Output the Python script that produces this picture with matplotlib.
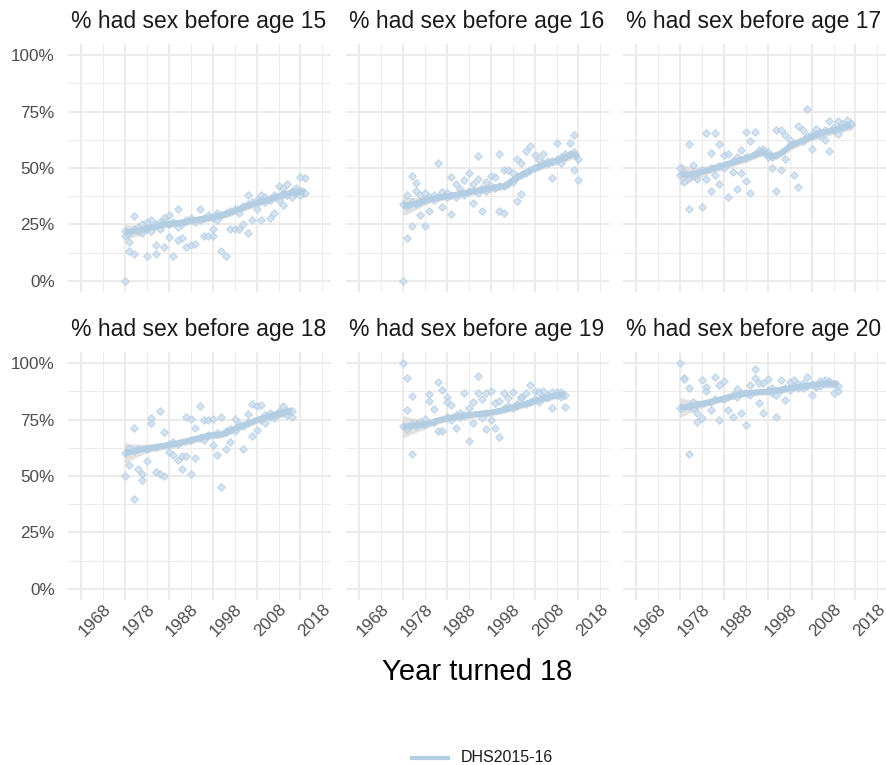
import matplotlib
matplotlib.use('Agg')
import matplotlib.pyplot as plt
from matplotlib.lines import Line2D

plt.rcParams['font.family'] = ['Liberation Sans', 'DejaVu Sans']

# ---------------- data ----------------
panel_titles = ['% had sex before age 15', '% had sex before age 16', '% had sex before age 17',
                '% had sex before age 18', '% had sex before age 19', '% had sex before age 20']
x_tick_years = [1968, 1978, 1988, 1998, 2008, 2018]
x_mid_years = [1963, 1973, 1983, 1993, 2003, 2013]
y_ticks = [0, 0.25, 0.5, 0.75, 1.0]
y_tick_labels = ['0%', '25%', '50%', '75%', '100%']
series_name = 'DHS2015-16'
x_title = 'Year turned 18'

# age 15
pts_years_15 = [1973, 1973, 1973, 1974, 1974, 1974, 1975, 1975, 1975, 1976, 1976, 1977, 1977, 1978, 1978, 1978,
                1979, 1979, 1980, 1980, 1980, 1981, 1981, 1982, 1982, 1982, 1983, 1983, 1983, 1984, 1984,
                1985, 1985, 1985, 1986, 1986, 1987, 1987, 1988, 1988, 1989, 1989, 1990, 1990, 1991, 1991,
                1992, 1992, 1993, 1993, 1993, 1994, 1994, 1995, 1995, 1996, 1996, 1997, 1997, 1998, 1998,
                1999, 1999, 2000, 2000, 2001, 2001, 2001, 2002, 2002, 2003, 2003, 2004, 2004, 2004, 2005, 2005,
                2006, 2006, 2007, 2007, 2008, 2008, 2009, 2009, 2009, 2010, 2010, 2011, 2011, 2012, 2012,
                2013, 2013, 2014, 2014]
pts_vals_15 = [0.00, 0.22, 0.20, 0.17, 0.13, 0.21, 0.287, 0.12, 0.23, 0.22, 0.24, 0.25, 0.21, 0.11, 0.26, 0.23,
               0.27, 0.22, 0.16, 0.12, 0.25, 0.26, 0.23, 0.15, 0.28, 0.26, 0.195, 0.29, 0.25, 0.11, 0.26,
               0.32, 0.18, 0.24, 0.19, 0.25, 0.15, 0.27, 0.16, 0.28, 0.165, 0.26, 0.32, 0.27, 0.20, 0.28,
               0.20, 0.29, 0.23, 0.20, 0.28, 0.30, 0.27, 0.13, 0.29, 0.11, 0.30, 0.23, 0.31, 0.23, 0.32,
               0.23, 0.30, 0.25, 0.33, 0.21, 0.38, 0.34, 0.27, 0.35, 0.32, 0.36, 0.27, 0.36, 0.38, 0.35, 0.37,
               0.28, 0.36, 0.30, 0.38, 0.42, 0.36, 0.335, 0.39, 0.41, 0.43, 0.38, 0.40, 0.37, 0.39, 0.41,
               0.46, 0.38, 0.455, 0.39]
smooth_years_15 = list(range(1973, 2015))
smooth_15 = [.217, .218, .22, .222, .226, .232, .236, .24, .245, .25, .252, .254, .256, .258, .262, .266,
             .27, .272, .275, .278, .282, .286, .29, .296, .302, .31, .318, .325, .332, .338, .344, .35,
             .356, .362, .368, .374, .38, .385, .39, .394, .396, .392]
band_15 = [.035, .03, .026, .023, .021, .019, .018, .017,
           .016, .016, .016, .016, .016, .016, .016, .016, .016, .016, .016,
           .016, .016, .016, .016, .016, .016, .016, .016, .016, .016, .016,
           .016, .016, .016, .017, .017, .017, .018, .018, .019, .02, .021, .023]

# age 16
pts_years_16 = [1973, 1973, 1974, 1974, 1974, 1975, 1975, 1975, 1976, 1976, 1976, 1977, 1977, 1977, 1978, 1978, 1978,
                1979, 1979, 1980, 1980, 1981, 1981, 1982, 1982, 1983, 1983, 1984, 1984, 1984, 1985, 1985,
                1986, 1986, 1987, 1987, 1988, 1988, 1989, 1989, 1990, 1990, 1990, 1991, 1991, 1992, 1992,
                1993, 1993, 1994, 1994, 1995, 1995, 1995, 1996, 1996, 1996, 1997, 1997, 1998, 1998,
                1999, 1999, 1999, 2000, 2000, 2000, 2001, 2001, 2002, 2002, 2003, 2003, 2004, 2004, 2005, 2005,
                2006, 2006, 2007, 2007, 2008, 2008, 2009, 2009, 2010, 2010, 2011, 2011, 2012, 2012, 2012,
                2013, 2013]
pts_vals_16 = [0.0, .34, .188, .38, .33, .242, .464, .35, .434, .40, .34, .29, .38, .35, .242, .39, .36,
               .31, .37, .36, .38, .524, .37, .325, .394, .37, .39, .295, .461, .38, .428, .37,
               .409, .39, .446, .38, .479, .40, .428, .343, .552, .453, .39, .31, .41, .439, .40,
               .465, .42, .458, .41, .564, .31, .42, .301, .49, .42, .49, .43, .479, .44,
               .353, .542, .46, .383, .523, .47, .575, .48, .597, .49, .557, .50, .535, .51, .561, .52,
               .52, .53, .456, .53, .613, .54, .523, .55, .55, .56, .613, .56, .645, .493, .57,
               .446, .542]
smooth_years_16 = list(range(1973, 2014))
smooth_16 = [.335, .333, .338, .342, .348, .355, .36, .364, .368, .372, .375, .378, .381, .385, .388, .392,
             .396, .40, .404, .407, .41, .414, .417, .42, .43, .445, .46, .47, .48, .49, .50, .507, .513,
             .52, .526, .532, .54, .548, .556, .56, .545]
band_16 = [.045, .038, .032, .027, .023, .02, .018, .017, .016, .016,
           .016, .016, .016, .016, .016, .016, .016, .016, .016, .016,
           .016, .016, .016, .016, .016, .016, .016, .016, .016, .016,
           .016, .016, .017, .017, .017, .018, .018, .019, .02, .021,
           .023]

# age 17
pts_years_17 = [1973, 1973, 1974, 1974, 1975, 1975, 1975, 1976, 1976, 1977, 1977, 1978, 1978, 1979, 1979,
                1980, 1980, 1980, 1981, 1981, 1982, 1982, 1982, 1983, 1983, 1984, 1984, 1985, 1985,
                1986, 1986, 1987, 1987, 1988, 1988, 1988, 1989, 1989, 1990, 1990, 1991, 1991, 1992, 1992,
                1993, 1993, 1994, 1994, 1995, 1995, 1996, 1996, 1997, 1997, 1998, 1998, 1999, 1999,
                2000, 2000, 2001, 2001, 2002, 2002, 2003, 2003, 2004, 2004, 2005, 2005, 2006, 2006,
                2007, 2007, 2008, 2008, 2009, 2009, 2010, 2010, 2011, 2011, 2012, 2012]
pts_vals_17 = [.50, .47, .439, .48, .606, .32, .46, .513, .47, .453, .48, .325, .49, .656, .453,
               .567, .40, .50, .656, .468, .606, .427, .51, .557, .50, .372, .561, .483, .53,
               .55, .405, .579, .479, .66, .443, .55, .619, .39, .66, .56, .572, .58, .586, .57,
               .55, .57, .50, .55, .668, .40, .67, .493, .648, .542, .623, .60, .468, .61,
               .685, .417, .668, .62, .761, .64, .586, .65, .675, .65, .66, .64, .626, .67,
               .709, .575, .67, .68, .653, .708, .697, .68, .712, .69, .69, .70]
smooth_years_17 = list(range(1973, 2013))
smooth_17 = [.476, .47, .47, .474, .478, .482, .488, .494, .50, .506, .512, .518, .524, .53, .536, .542,
             .55, .558, .566, .57, .56, .552, .556, .565, .58, .595, .605, .614, .622, .63, .638, .646,
             .653, .658, .663, .667, .672, .678, .685, .69]
band_17 = [.05, .043, .036, .03, .026, .023, .021, .019, .018, .018,
           .018, .018, .018, .018, .018, .018, .018, .018, .018, .018,
           .018, .018, .018, .018, .018, .018, .018, .018, .018, .018,
           .018, .018, .018, .019, .019, .019, .02, .02, .021, .022]

# age 18
pts_years_18 = [1973, 1973, 1974, 1974, 1975, 1975, 1975, 1976, 1976, 1977, 1977, 1978, 1978, 1979, 1979,
                1980, 1980, 1981, 1981, 1982, 1982, 1983, 1983, 1984, 1984, 1985, 1985, 1986, 1986,
                1987, 1987, 1988, 1988, 1988, 1989, 1989, 1990, 1990, 1991, 1991, 1992, 1992, 1993, 1993,
                1994, 1994, 1995, 1995, 1996, 1996, 1997, 1997, 1998, 1998, 1999, 1999, 2000, 2000,
                2001, 2001, 2002, 2002, 2003, 2003, 2004, 2004, 2005, 2005, 2006, 2006, 2007, 2007,
                2008, 2008, 2009, 2009, 2010, 2010, 2011, 2011]
pts_vals_18 = [.50, .60, .548, .622, .714, .397, .61, .533, .62, .511, .481, .566, .62, .756, .736,
               .519, .63, .788, .511, .50, .696, .607, .64, .593, .65, .57, .64, .529, .588,
               .76, .588, .511, .751, .66, .582, .714, .812, .67, .748, .66, .748, .68, .751, .637,
               .593, .69, .763, .452, .618, .70, .652, .71, .751, .70, .72, .73, .618, .72,
               .775, .74, .677, .819, .704, .81, .815, .75, .733, .77, .76, .78, .756, .77,
               .79, .78, .81, .78, .79, .77, .76, .79]
smooth_years_18 = list(range(1973, 2012))
smooth_18 = [.603, .605, .61, .614, .618, .622, .625, .628, .631, .634, .637, .641, .645, .65, .654, .659,
             .664, .669, .674, .678, .681, .682, .685, .69, .70, .71, .718, .725, .732, .74, .748, .754,
             .76, .765, .77, .775, .78, .785, .788]
band_18 = [.045, .038, .032, .027, .023, .02, .018, .017, .016, .016,
           .016, .016, .016, .016, .016, .016, .016, .016, .016, .016,
           .016, .016, .016, .016, .016, .016, .016, .016, .016, .016,
           .016, .016, .017, .017, .017, .018, .018, .019, .02]

# age 19
pts_years_19 = [1973, 1973, 1974, 1974, 1974, 1975, 1975, 1975, 1976, 1976, 1977, 1977, 1978, 1978, 1979, 1979,
                1980, 1980, 1981, 1981, 1982, 1982, 1983, 1983, 1983, 1984, 1984, 1985, 1985, 1986, 1986,
                1987, 1987, 1988, 1988, 1989, 1989, 1990, 1990, 1991, 1991, 1992, 1992, 1992, 1993, 1993,
                1994, 1994, 1995, 1995, 1996, 1996, 1997, 1997, 1998, 1998, 1999, 1999, 2000, 2000,
                2001, 2001, 2002, 2002, 2003, 2003, 2004, 2004, 2005, 2005, 2006, 2006, 2007, 2007,
                2008, 2008, 2009, 2009, 2010, 2010]
pts_vals_19 = [1.0, .72, .936, .793, .71, .855, .597, .73, .726, .72, .736, .74, .751, .73, .862, .833,
               .797, .74, .919, .70, .881, .70, .852, .83, .76, .815, .75, .714, .77, .78, .76,
               .867, .77, .655, .803, .733, .83, .945, .87, .84, .756, .87, .707, .78, .877, .748,
               .825, .714, .833, .671, .87, .80, .844, .81, .874, .80, .82, .81, .844, .852,
               .867, .82, .904, .83, .879, .84, .871, .83, .877, .85, .85, .86, .80, .871,
               .874, .86, .871, .85, .807, .86]
smooth_years_19 = list(range(1973, 2011))
smooth_19 = [.719, .72, .722, .724, .726, .728, .734, .74, .746, .751, .756, .759, .762, .765, .768, .77,
             .772, .775, .777, .779, .781, .785, .789, .793, .799, .805, .81, .815, .82, .826, .832, .837,
             .843, .848, .854, .859, .86, .86]
band_19 = [.05, .043, .036, .03, .025, .021, .018, .017, .016, .015,
           .015, .015, .015, .015, .015, .015, .015, .015, .015, .015,
           .015, .015, .015, .015, .015, .015, .015, .015, .015, .015,
           .015, .015, .015, .016, .016, .017, .018, .019]

# age 20
pts_years_20 = [1973, 1973, 1974, 1974, 1975, 1975, 1975, 1976, 1976, 1977, 1977, 1978, 1978, 1979, 1979,
                1980, 1980, 1981, 1981, 1982, 1982, 1983, 1983, 1984, 1984, 1985, 1985, 1986, 1986,
                1987, 1987, 1988, 1988, 1989, 1989, 1990, 1990, 1991, 1991, 1992, 1992, 1993, 1993,
                1994, 1994, 1995, 1995, 1996, 1996, 1997, 1997, 1998, 1998, 1999, 1999, 2000, 2000,
                2001, 2001, 2002, 2002, 2003, 2003, 2004, 2004, 2005, 2005, 2006, 2006, 2007, 2007,
                2008, 2008, 2009, 2009]
pts_vals_20 = [1.0, .80, .936, .929, .889, .597, .81, .83, .80, .781, .741, .926, .756, .893, .877,
               .793, .83, .941, .84, .904, .748, .921, .84, .793, .85, .763, .86, .884, .85,
               .867, .781, .726, .87, .904, .86, .933, .973, .822, .911, .911, .778, .929, .88,
               .87, .89, .763, .859, .926, .88, .837, .89, .919, .88, .926, .90, .89, .91,
               .911, .89, .938, .90, .859, .91, .896, .90, .90, .92, .926, .91, .91, .92,
               .867, .91, .877, .90]
smooth_years_20 = list(range(1973, 2010))
smooth_20 = [.804, .805, .808, .812, .816, .819, .824, .829, .834, .839, .844, .849, .854, .859, .863, .867,
             .869, .87, .872, .873, .874, .877, .88, .883, .886, .889, .892, .895, .898, .901, .904, .906,
             .908, .91, .911, .91, .908]
band_20 = [.045, .038, .031, .025, .021, .018, .016, .015, .014, .014,
           .014, .014, .014, .014, .014, .014, .014, .014, .014, .014,
           .014, .014, .014, .014, .014, .014, .014, .014, .014, .014,
           .014, .014, .015, .015, .016, .017, .018]

panels = [
    (pts_years_15, pts_vals_15, smooth_years_15, smooth_15, band_15),
    (pts_years_16, pts_vals_16, smooth_years_16, smooth_16, band_16),
    (pts_years_17, pts_vals_17, smooth_years_17, smooth_17, band_17),
    (pts_years_18, pts_vals_18, smooth_years_18, smooth_18, band_18),
    (pts_years_19, pts_vals_19, smooth_years_19, smooth_19, band_19),
    (pts_years_20, pts_vals_20, smooth_years_20, smooth_20, band_20),
]

# ---------------- layout / style ----------------
W, H = 887, 765
fig = plt.figure(figsize=(W / 100, H / 100), dpi=100)
fig.patch.set_facecolor('white')

def fx(px):
    return px / W

def fy(py):
    return 1 - py / H

col_left = [68, 346, 623]
col_w = 263
row_top = [44, 352]
row_h = 248

LINE_COL = '#b3cde3'
PT_FACE = '#c9dbed'
GRID = '#ebebeb'
TXT = '#4d4d4d'

for i, (py, pv, sy, sv, bw) in enumerate(panels):
    r, c = divmod(i, 3)
    left, top = col_left[c], row_top[r]
    ax = fig.add_axes([fx(left), fy(top + row_h), col_w / W, row_h / H])
    ax.set_xlim(1960.05, 2019.95)
    ax.set_ylim(-0.05, 1.05)
    for s in ax.spines.values():
        s.set_visible(False)
    # grid
    for yv in y_ticks:
        ax.axhline(yv, color=GRID, lw=1.5, zorder=0)
    for yv in [0.125, 0.375, 0.625, 0.875]:
        ax.axhline(yv, color=GRID, lw=0.8, zorder=0)
    for xv in x_mid_years:
        ax.axvline(xv, color=GRID, lw=1.5, zorder=0)
    for xv in x_tick_years:
        ax.axvline(xv, color=GRID, lw=0.8, zorder=0)

    lo = [m - b for m, b in zip(sv, bw)]
    hi = [m + b for m, b in zip(sv, bw)]
    ax.fill_between(sy, lo, hi, color='#d0d0d0', alpha=0.6, lw=0, zorder=1)
    ax.scatter(py, pv, marker='D', s=15, facecolor=PT_FACE, edgecolor=LINE_COL,
               linewidths=0.8, alpha=0.75, zorder=2)
    ax.plot(sy, sv, color=LINE_COL, lw=4.3, solid_capstyle='butt', zorder=3)

    ax.tick_params(length=0)
    if c == 0:
        ax.set_yticks(y_ticks)
        ax.set_yticklabels(y_tick_labels, color=TXT, fontsize=12.3)
        ax.tick_params(axis='y', pad=9.5)
    else:
        ax.set_yticks([])
    if r == 1:
        ax.set_xticks(x_tick_years)
        ax.set_xticklabels([str(y) for y in x_tick_years], color=TXT, fontsize=12.3,
                           rotation=45, ha='right', va='top', rotation_mode='anchor')
        ax.tick_params(axis='x', pad=1)
    else:
        ax.set_xticks([])

    fig.text(fx(left + 3), fy(top - 22.5), panel_titles[i], ha='left', va='center',
             fontsize=16.5, color='#1a1a1a')

fig.text(fx(477), fy(672), x_title, ha='center', va='center', fontsize=21, color='#000000')

fig.add_artist(Line2D([fx(412), fx(448)], [fy(757.5), fy(757.5)], color=LINE_COL, lw=3,
                      transform=fig.transFigure))
fig.text(fx(461), fy(757.5), series_name, ha='left', va='center', fontsize=11.5, color='#1a1a1a')

fig.savefig('out.png', dpi=100, facecolor='white')
